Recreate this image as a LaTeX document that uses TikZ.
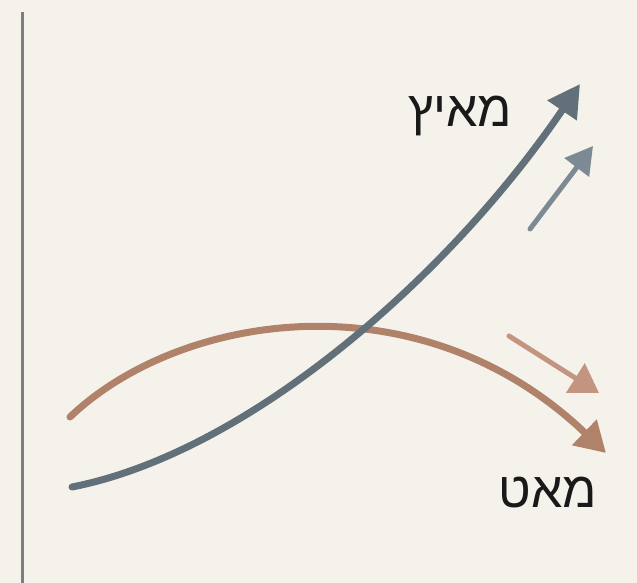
\documentclass[tikz,border=0pt]{standalone}
\usepackage{fontspec}
\setmainfont{Liberation Sans}
\newfontfamily\hebfont[Script=Hebrew]{Liberation Sans}
\usetikzlibrary{arrows.meta}
\TeXXeTstate=1
\definecolor{bg}{HTML}{F5F2EC}
\definecolor{axisgray}{HTML}{7C7F80}
\definecolor{bluegray}{HTML}{627079}
\definecolor{lightblue}{HTML}{7D8A93}
\definecolor{brownline}{HTML}{B0826A}
\definecolor{lightbrown}{HTML}{C39580}
\tikzset{
  bigcurve/.style={line width=7pt, line cap=round},
  smallarrow/.style={line width=5pt, line cap=round},
  lbl/.style={font=\hebfont\fontsize{50}{50}\selectfont, text=black!90, inner sep=0pt}
}
\begin{document}
\begin{tikzpicture}[x=1pt,y=-1pt]
\fill[bg] (0,0) rectangle (637,583);
\useasboundingbox (0,0) rectangle (637,583);
% axis
\coordinate (axtop) at (22,12);
\coordinate (axbot) at (22,583);
\draw[axisgray, line width=3pt] (axtop) -- (axbot);
% brown curve
\coordinate (bs) at (70,417);
\coordinate (be) at (606,453);
\draw[brownline, bigcurve, -{Triangle[length=30pt,width=34pt]}]
  (bs) .. controls (180,312) and (420,275) .. (be);
% blue curve
\coordinate (gs) at (72,487);
\coordinate (ge) at (580,84);
\draw[bluegray, bigcurve, -{Triangle[length=32pt,width=34pt]}]
  (gs) .. controls (250,452) and (450,275) .. (ge);
% small arrows
\coordinate (sbs) at (530,229);
\coordinate (sbe) at (593,146);
\draw[lightblue, smallarrow, -{Triangle[length=27pt,width=30pt]}] (sbs) -- (sbe);
\coordinate (sns) at (509,336);
\coordinate (sne) at (599,393);
\draw[lightbrown, smallarrow, -{Triangle[length=28pt,width=34pt]}] (sns) -- (sne);
% labels
\node[lbl] (fast) at (460,116) {\beginR מאיץ\endR};
\node[lbl] (slow) at (548,493) {\beginR מאט\endR};
\end{tikzpicture}
\end{document}
